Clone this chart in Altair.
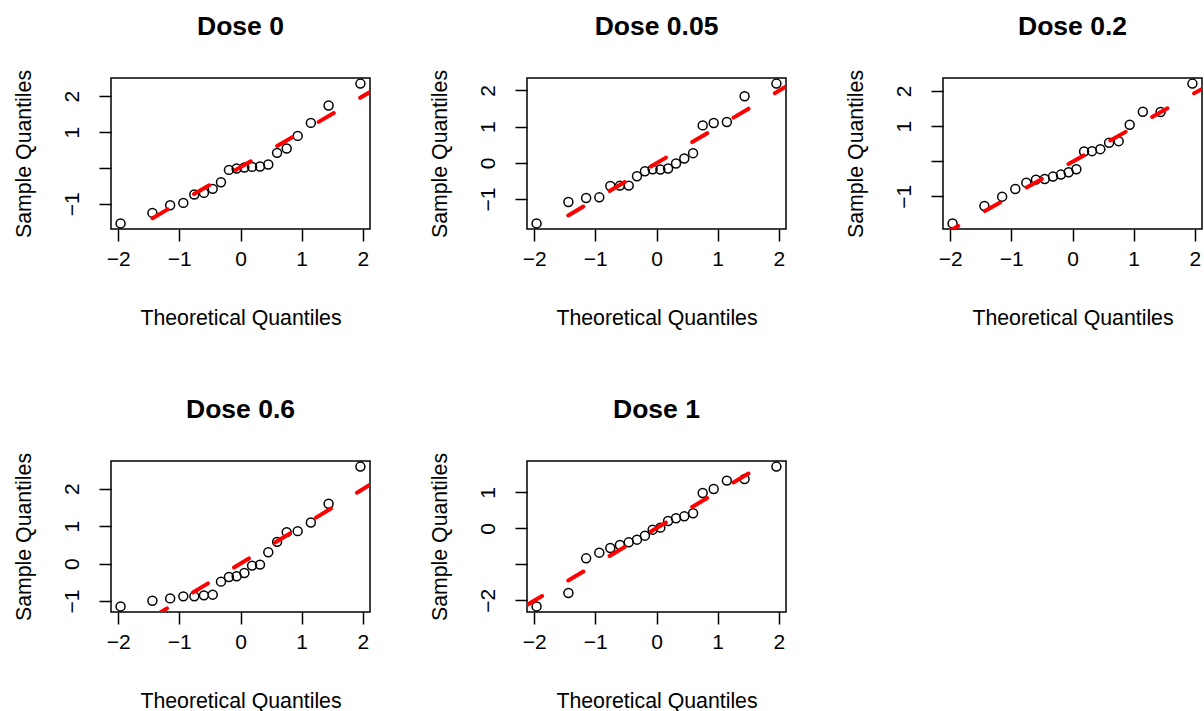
import altair as alt
import pandas as pd

# ---------------- data ----------------
titles = ["Dose 0", "Dose 0.05", "Dose 0.2", "Dose 0.6", "Dose 1"]

theoretical = [-1.960, -1.440, -1.150, -0.935, -0.755, -0.598, -0.454, -0.319, -0.189, -0.063,
               0.063, 0.189, 0.319, 0.454, 0.598, 0.755, 0.935, 1.150, 1.440, 1.960]

sample_dose_0 = [-1.55, -1.256, -1.042, -0.977, -0.744, -0.698, -0.586, -0.400, -0.056, -0.019,
                 0.010, 0.028, 0.037, 0.093, 0.419, 0.540, 0.893, 1.256, 1.740, 2.353]
sample_dose_005 = [-1.671, -1.080, -0.970, -0.951, -0.637, -0.628, -0.628, -0.369, -0.231, -0.175,
                   -0.185, -0.157, -0.018, 0.120, 0.268, 1.034, 1.099, 1.127, 1.837, 2.188]
sample_dose_02 = [-1.771, -1.276, -1.010, -0.790, -0.610, -0.524, -0.505, -0.438, -0.381, -0.314,
                  -0.229, 0.276, 0.286, 0.343, 0.524, 0.571, 1.038, 1.410, 1.400, 2.210]
sample_dose_06 = [-1.143, -0.991, -0.929, -0.875, -0.875, -0.848, -0.830, -0.482, -0.357, -0.339,
                  -0.250, -0.054, -0.027, 0.304, 0.580, 0.839, 0.866, 1.098, 1.598, 2.589]
sample_dose_1 = [-2.167, -1.796, -0.833, -0.676, -0.546, -0.463, -0.389, -0.315, -0.204, -0.037,
                 0.019, 0.204, 0.278, 0.333, 0.417, 0.981, 1.093, 1.324, 1.370, 1.713]
samples = [sample_dose_0, sample_dose_005, sample_dose_02, sample_dose_06, sample_dose_1]

# qqline (intercept, slope) per panel
line_intercepts = [0.02, -0.01, -0.015, 0.0, 0.006]
line_slopes = [0.99, 1.0, 0.98, 0.994, 1.007]

x_ticks = [-2, -1, 0, 1, 2]
y_ticks = [[-1, 0, 1, 2], [-1, 0, 1, 2], [-1, 0, 1, 2], [-1, 0, 1, 2], [-2, -1, 0, 1]]
hidden_y_labels = [[0], [], [0], [], [-1]]

FONT = "Liberation Sans"
W, H = 259, 151


def expand(vals):
    lo, hi = min(vals), max(vals)
    r = hi - lo
    return [lo - 0.04 * r, hi + 0.04 * r]


xdom = expand(theoretical)


def panel(i):
    df = pd.DataFrame({"x": theoretical, "y": samples[i]})
    ydom = expand(samples[i])
    xscale = alt.Scale(domain=xdom, nice=False, zero=False)
    yscale = alt.Scale(domain=ydom, nice=False, zero=False)
    hidden = hidden_y_labels[i]
    if hidden:
        label_expr = "(" + " || ".join(f"datum.value == {v}" for v in hidden) + ") ? '' : datum.label"
    else:
        label_expr = "datum.label"

    xaxis = alt.Axis(values=x_ticks, title="Theoretical Quantiles",
                     labelPadding=7.5, labelBaseline="top",
                     titleX=W / 2, titleY=95, titleAlign="center", titleBaseline="alphabetic")
    yaxis = alt.Axis(values=y_ticks[i], labelExpr=label_expr, title="Sample Quantiles",
                     labelAngle=270, labelAlign="center", labelBaseline="alphabetic",
                     labelPadding=21,
                     titleX=-81, titleY=H / 2, titleAngle=270, titleAlign="center",
                     titleBaseline="alphabetic")

    pts = alt.Chart(df).mark_point(shape="circle", filled=False, color="black",
                                   size=80, strokeWidth=1.5, opacity=1).encode(
        x=alt.X("x:Q", scale=xscale, axis=xaxis),
        y=alt.Y("y:Q", scale=yscale, axis=yaxis),
    )

    a, b = line_intercepts[i], line_slopes[i]
    line_df = pd.DataFrame({"x": xdom, "y": [a + b * v for v in xdom]})
    line = alt.Chart(line_df).mark_line(color="#ff0000", strokeWidth=4,
                                        strokeDash=[17.5, 30.5], strokeCap="round",
                                        clip=True).encode(
        x=alt.X("x:Q", scale=xscale, axis=xaxis),
        y=alt.Y("y:Q", scale=yscale, axis=yaxis),
    )

    return alt.layer(pts, line).properties(
        width=W, height=H,
        title=alt.TitleParams(titles[i], fontSize=26.5, fontWeight="bold", font=FONT,
                              color="black", anchor="middle", frame="group",
                              offset=8, baseline="alphabetic"),
    )


chart = alt.concat(*[panel(i) for i in range(5)], columns=3,
                   spacing={"row": 232, "column": 157}, bounds="flush").properties(
    padding={"left": 12, "top": 13, "right": 0, "bottom": 0},
    background="white",
).configure_view(
    stroke="black", strokeWidth=1.5
).configure_axis(
    domain=False, grid=False, tickColor="black", tickWidth=1.5, tickSize=12,
    labelFont=FONT, labelFontSize=21, labelColor="black",
    titleFont=FONT, titleFontSize=21.3, titleFontWeight="normal", titleColor="black",
    labelOverlap=False, labelFlush=False,
)

chart.save("out.html", embed_options={"renderer": "svg", "actions": False})
